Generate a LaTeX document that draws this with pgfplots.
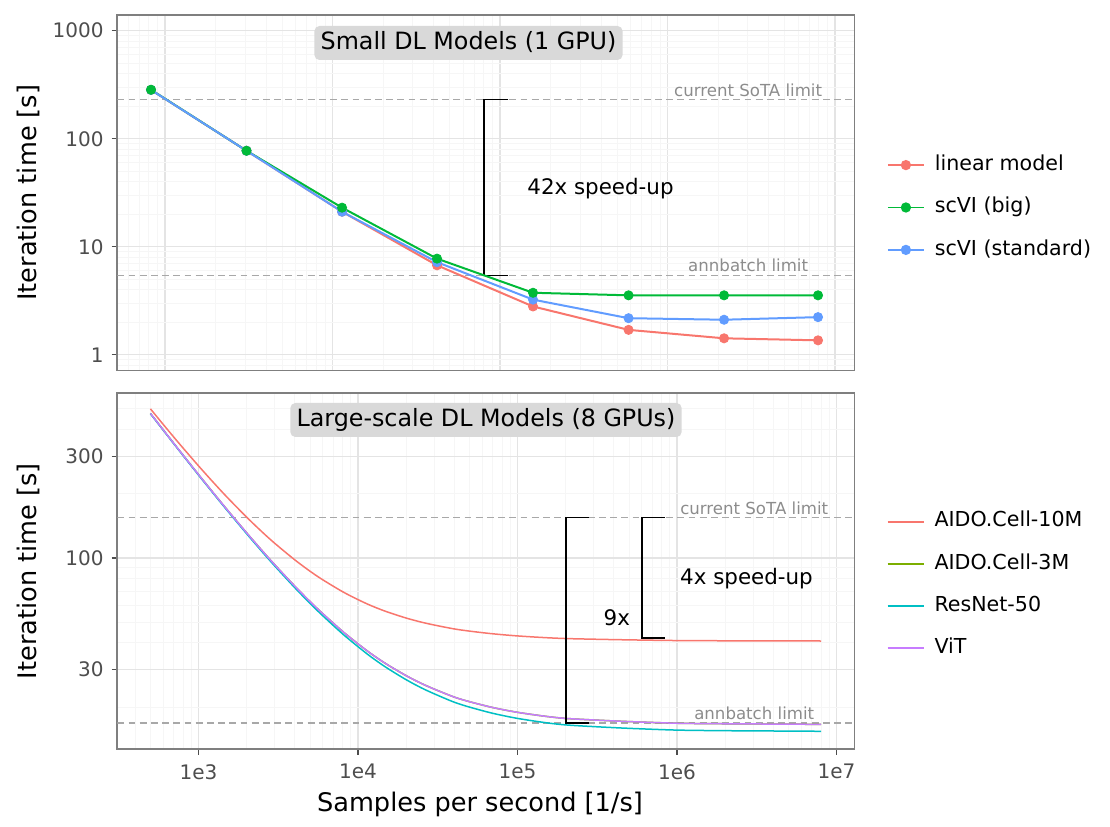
\documentclass[border=0pt]{standalone}
\usepackage{fontspec}
\setmainfont{DejaVu Sans}
\usepackage{pgfplots}
\pgfplotsset{compat=1.18}
\definecolor{redc}{HTML}{F8766D}
\definecolor{greenc}{HTML}{00BA38}
\definecolor{bluec}{HTML}{619CFF}
\definecolor{olivec}{HTML}{7CAE00}
\definecolor{tealc}{HTML}{00BFC4}
\definecolor{purplec}{HTML}{C77CFF}
\definecolor{boxgray}{HTML}{D9D9D9}
\definecolor{dashgray}{HTML}{A8A8A8}
\definecolor{limitgray}{HTML}{8C8C8C}
\definecolor{tickgray}{HTML}{4D4D4D}
\definecolor{framegray}{HTML}{7F7F7F}
\definecolor{majgrid}{HTML}{E4E4E4}
\definecolor{mingrid}{HTML}{F6F6F6}
\tikzset{
  limtext/.style={font=\fontsize{8.3}{10}\selectfont, text=limitgray, anchor=base, inner sep=0pt},
  titlebox/.style={fill=boxgray, rounded corners=2.5pt, inner xsep=3.1pt, inner ysep=2.7pt,
    text height=9pt, text depth=2.6pt, font=\fontsize{11.9}{14}\selectfont},
  annot/.style={anchor=base west, inner sep=0pt, font=\fontsize{10.7}{13}\selectfont},
  hline/.style={dashgray, line width=0.7pt, dash pattern=on 3.4pt off 2.2pt},
  bracket/.style={black, line width=0.85pt},
}
\pgfplotsset{
  legend image code/.code={\draw[mark repeat=2,mark phase=2,#1] plot coordinates {(0pt,0pt) (9pt,0pt) (18pt,0pt)};},
}
\begin{document}
\begin{tikzpicture}
\path[use as bounding box] (0pt,0pt) rectangle (555pt,413pt);

% ---------------- top panel ----------------
\begin{axis}[
  xmode=log, ymode=log, scale only axis,
  width=368.6pt, height=177.75pt,
  at={(58.65pt,227.75pt)}, anchor=south west,
  xmin=519, xmax=1.307e7, ymin=0.715, ymax=1398,
  axis line style={draw=framegray, line width=0.9pt},
  tick style={color=tickgray, line width=0.6pt},
  major tick length=2.85pt, minor tick length=0pt,
  tick align=outside, xtick pos=bottom, ytick pos=left,
  xmajorgrids, ymajorgrids, xminorgrids, yminorgrids,
  major grid style={draw=majgrid, line width=0.6pt},
  minor grid style={draw=mingrid, line width=0.35pt},
  ticklabel style={font=\fontsize{10}{12}\selectfont, text=tickgray},
  /pgf/number format/assume math mode=true,
  yticklabel style={inner sep=0pt, xshift=-3.8pt},
  xtick={1e3,1e4,1e5,1e6,1e7}, xticklabels={}, xtick style={draw=none},
  minor xtick={600,700,800,900,2000,3000,4000,5000,6000,7000,8000,9000,
    20000,30000,40000,50000,60000,70000,80000,90000,
    200000,300000,400000,500000,600000,700000,800000,900000,
    2e6,3e6,4e6,5e6,6e6,7e6,8e6,9e6},
  ytick={1,10,100,1000}, yticklabels={1,10,100,1000},
  minor ytick={0.8,0.9,2,3,4,5,6,7,8,9,20,30,40,50,60,70,80,90,200,300,400,500,600,700,800,900},
  ylabel={Iteration time [s]},
  ylabel style={font=\fontsize{12.8}{15}\selectfont, at={(axis description cs:-0.109,0.5)}, anchor=base},
  legend cell align=left,
  legend style={draw=none, fill=none, inner sep=0pt, outer sep=0pt,
    row sep=11.2pt, column sep=5pt,
    font=\fontsize{10.3}{12}\selectfont,
    nodes={inner sep=0pt, text height=7.6pt, text depth=2.4pt},
    at={(axis description cs:1.0441,0.4585)}, anchor=west},
]
\addplot[hline, forget plot] coordinates {(519,230.8) (1.307e7,230.8)};
\addplot[hline, forget plot] coordinates {(519,5.43) (1.307e7,5.43)};
\addplot[bracket, forget plot] coordinates {(112100,230.8) (79900,230.8) (79900,5.43) (112100,5.43)};
% lines
\addplot[redc, line width=1pt, forget plot] coordinates {
 (825,283) (3066,77.4) (11400,21.1) (42070,6.73) (157400,2.80) (585300,1.70) (2175000,1.42) (7915000,1.36)};
\addplot[greenc, line width=1pt, forget plot] coordinates {
 (825,284) (3066,77.4) (11400,23.0) (42070,7.76) (157400,3.75) (585300,3.55) (2175000,3.55) (7915000,3.55)};
\addplot[bluec, line width=1pt, forget plot] coordinates {
 (825,283) (3066,77.4) (11400,21.1) (42070,7.2) (157400,3.24) (585300,2.18) (2175000,2.11) (7915000,2.23)};
% points
\addplot[redc, only marks, mark=*, mark size=2.3pt, forget plot] coordinates {
 (825,283) (3066,77.4) (11400,21.1) (42070,6.73) (157400,2.80) (585300,1.70) (2175000,1.42) (7915000,1.36)};
\addplot[bluec, only marks, mark=*, mark size=2.3pt, forget plot] coordinates {
 (825,283) (3066,77.4) (11400,21.1) (42070,7.2) (157400,3.24) (585300,2.18) (2175000,2.11) (7915000,2.23)};
\addplot[greenc, only marks, mark=*, mark size=2.3pt, forget plot] coordinates {
 (825,284) (3066,77.4) (11400,23.0) (42070,7.76) (157400,3.75) (585300,3.55) (2175000,3.55) (7915000,3.55)};
\addlegendimage{redc, line width=0.9pt, mark=*, mark size=2.1pt}
\addlegendentry{linear model}
\addlegendimage{greenc, line width=0.9pt, mark=*, mark size=2.1pt}
\addlegendentry{scVI (big)}
\addlegendimage{bluec, line width=0.9pt, mark=*, mark size=2.1pt}
\addlegendentry{scVI (standard)}
\node[limtext, yshift=1.7pt] at (axis cs:3.03e6,230.8) {current SoTA limit};
\node[limtext, yshift=1.7pt] at (axis cs:3.03e6,5.43) {annbatch limit};
\node[annot] at (axis cs:144900,30.6) {42x speed-up};
\node[titlebox] at (rel axis cs:0.4764,0.9212) {Small DL Models (1 GPU)};
\end{axis}

% ---------------- bottom panel ----------------
\begin{axis}[
  xmode=log, ymode=log, scale only axis,
  width=368.6pt, height=178pt,
  at={(58.65pt,38.35pt)}, anchor=south west,
  xmin=310, xmax=1.297e7, ymin=12.68, ymax=591,
  axis line style={draw=framegray, line width=0.9pt},
  tick style={color=tickgray, line width=0.6pt},
  major tick length=2.85pt, minor tick length=0pt,
  tick align=outside, xtick pos=bottom, ytick pos=left,
  xmajorgrids, ymajorgrids, xminorgrids, yminorgrids,
  major grid style={draw=majgrid, line width=0.6pt},
  minor grid style={draw=mingrid, line width=0.35pt},
  ticklabel style={font=\fontsize{10}{12}\selectfont, text=tickgray},
  /pgf/number format/assume math mode=true,
  yticklabel style={inner sep=0pt, xshift=-3.8pt},
  xticklabel style={inner sep=0pt, yshift=-4.5pt},
  xtick={1e3,1e4,1e5,1e6,1e7}, xticklabels={1e3,1e4,1e5,1e6,1e7},
  minor xtick={400,500,600,700,800,900,2000,3000,4000,5000,6000,7000,8000,9000,
    20000,30000,40000,50000,60000,70000,80000,90000,
    200000,300000,400000,500000,600000,700000,800000,900000,
    2e6,3e6,4e6,5e6,6e6,7e6,8e6,9e6},
  ytick={30,100,300}, yticklabels={30,100,300},
  minor ytick={20,40,50,60,70,80,90,200,400,500},
  xlabel={Samples per second [1/s]},
  xlabel style={font=\fontsize{12.8}{15}\selectfont, at={(axis description cs:0.492,-0.176)}, anchor=base},
  ylabel={Iteration time [s]},
  ylabel style={font=\fontsize{12.8}{15}\selectfont, at={(axis description cs:-0.109,0.5)}, anchor=base},
  legend cell align=left,
  legend style={draw=none, fill=none, inner sep=0pt, outer sep=0pt,
    row sep=11.1pt, column sep=5pt,
    font=\fontsize{10.3}{12}\selectfont,
    nodes={inner sep=0pt, text height=7.6pt, text depth=2.4pt},
    at={(axis description cs:1.0437,0.4615)}, anchor=west},
]
\addplot[hline, forget plot] coordinates {(310,154.5) (1.297e7,154.5)};
\addplot[hline, forget plot] coordinates {(310,16.85) (1.297e7,16.85)};
\addplot[redc, line width=0.75pt, smooth, forget plot] coordinates {
 (500,499.8) (600,423.3) (700,368.7) (800,327.7) (1000,270.3) (1200,232.1) (1500,193.8)
 (2000,155.6) (2500,132.6) (3000,117.3) (4000,98.2) (5000,86.7) (6000,79.1) (8000,69.5)
 (10000,63.8) (12000,59.9) (15000,56.1) (20000,52.3) (25000,50.0) (30000,48.5) (40000,46.5)
 (50000,45.4) (70000,44.1) (100000,43.1) (150000,42.3) (200000,41.9) (300000,41.6)
 (500000,41.3) (1000000,41.0) (2000000,40.9) (4000000,40.85) (8000000,40.8)};
\addplot[olivec, line width=0.75pt, smooth, forget plot] coordinates {
 (500,475.6) (600,399.1) (700,344.5) (800,303.5) (1000,246.1) (1200,207.9) (1500,169.6)
 (2000,131.4) (2500,108.4) (3000,93.1) (4000,74.0) (5000,62.5) (6000,54.9) (8000,45.3)
 (10000,39.6) (12000,35.7) (15000,31.9) (20000,28.1) (25000,25.8) (30000,24.3) (40000,22.3)
 (50000,21.2) (70000,19.9) (100000,18.9) (150000,18.1) (200000,17.7) (300000,17.4)
 (500000,17.1) (1000000,16.8) (2000000,16.7) (4000000,16.65) (8000000,16.6)};
\addplot[tealc, line width=0.75pt, smooth, forget plot] coordinates {
 (500,474.4) (600,397.9) (700,343.3) (800,302.3) (1000,244.9) (1200,206.7) (1500,168.4)
 (2000,130.2) (2500,107.2) (3000,91.9) (4000,72.8) (5000,61.3) (6000,53.7) (8000,44.1)
 (10000,38.4) (12000,34.5) (15000,30.7) (20000,26.9) (25000,24.6) (30000,23.1) (40000,21.1)
 (50000,20.0) (70000,18.7) (100000,17.7) (150000,16.9) (200000,16.5) (300000,16.2)
 (500000,15.9) (1000000,15.6) (2000000,15.5) (4000000,15.45) (8000000,15.4)};
\addplot[purplec, line width=0.75pt, smooth, forget plot] coordinates {
 (500,475.6) (600,399.1) (700,344.5) (800,303.5) (1000,246.1) (1200,207.9) (1500,169.6)
 (2000,131.4) (2500,108.4) (3000,93.1) (4000,74.0) (5000,62.5) (6000,54.9) (8000,45.3)
 (10000,39.6) (12000,35.7) (15000,31.9) (20000,28.1) (25000,25.8) (30000,24.3) (40000,22.3)
 (50000,21.2) (70000,19.9) (100000,18.9) (150000,18.1) (200000,17.7) (300000,17.4)
 (500000,17.1) (1000000,16.8) (2000000,16.7) (4000000,16.65) (8000000,16.6)};
\addlegendimage{redc, line width=0.9pt}
\addlegendentry{AIDO.Cell-10M}
\addlegendimage{olivec, line width=0.9pt}
\addlegendentry{AIDO.Cell-3M}
\addlegendimage{tealc, line width=0.9pt}
\addlegendentry{ResNet-50}
\addlegendimage{purplec, line width=0.9pt}
\addlegendentry{ViT}
\addplot[bracket, forget plot] coordinates {(280000,154.5) (202000,154.5) (202000,16.85) (280000,16.85)};
\addplot[bracket, forget plot] coordinates {(840000,154.5) (606000,154.5) (606000,42.2) (840000,42.2)};
\node[limtext, yshift=1.6pt] at (axis cs:3.05e6,154.5) {current SoTA limit};
\node[limtext, yshift=1.7pt] at (axis cs:3.05e6,16.85) {annbatch limit};
\node[annot] at (axis cs:345000,48.2) {9x};
\node[annot] at (axis cs:1.042e6,74.8) {4x speed-up};
\node[titlebox] at (rel axis cs:0.5001,0.925) {Large-scale DL Models (8 GPUs)};
\end{axis}
\end{tikzpicture}
\end{document}
